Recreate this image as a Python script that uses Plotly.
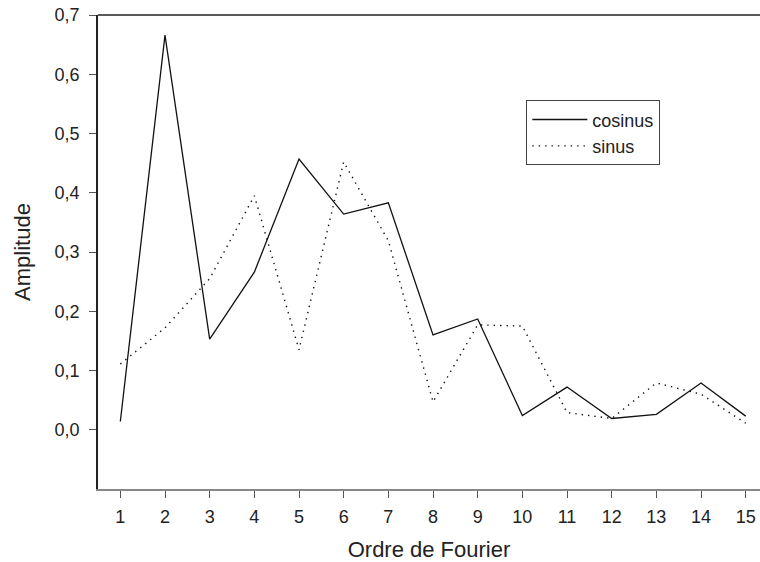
import plotly.graph_objects as go

ordre = list(range(1, 16))
cosinus = [0.014, 0.666, 0.153, 0.266, 0.457, 0.364, 0.383, 0.160, 0.187,
           0.024, 0.072, 0.019, 0.026, 0.079, 0.023]
sinus = [0.111, 0.172, 0.255, 0.395, 0.135, 0.452, 0.319, 0.047, 0.177,
         0.175, 0.029, 0.019, 0.079, 0.060, 0.011]
y_ticks = [0.0, 0.1, 0.2, 0.3, 0.4, 0.5, 0.6, 0.7]

font = "Liberation Sans, Arial, sans-serif"

fig = go.Figure()
fig.add_trace(go.Scatter(x=ordre, y=cosinus, mode="lines", name="cosinus",
                         line=dict(color="#111111", width=1.3)))
fig.add_trace(go.Scatter(x=ordre, y=sinus, mode="lines", name="sinus",
                         line=dict(color="#111111", width=1.4, dash="1.4px,5px")))

# top border line (black), bottom axis is grey
fig.add_shape(type="line", xref="paper", yref="paper", x0=0, x1=1, y0=1, y1=1,
              line=dict(color="#222222", width=1.3))

fig.update_layout(
    width=760, height=562,
    margin=dict(l=98, r=0, t=15, b=73),
    paper_bgcolor="white", plot_bgcolor="white",
    separators=", ",
    font=dict(family=font, size=18, color="#222222"),
    showlegend=True,
    legend=dict(x=0.647, y=0.82, xanchor="left", yanchor="top",
                bordercolor="#444444", borderwidth=1, bgcolor="white",
                font=dict(size=18), tracegroupgap=0,
                itemwidth=55),
    xaxis=dict(range=[0.5, 15.32], tickvals=ordre, showgrid=False, zeroline=False,
               showline=True, linecolor="#888888", linewidth=2,
               ticks="outside", ticklen=7, tickcolor="#555555",
               tickfont=dict(size=18), ticklabelstandoff=3,
               ticklabeloverflow="allow",
               title=dict(text="Ordre de Fourier", font=dict(size=22), standoff=19)),
    yaxis=dict(range=[-0.1, 0.7], tickvals=y_ticks, tickformat=".1f",
               showgrid=False, zeroline=False,
               showline=True, linecolor="#222222", linewidth=1.5,
               ticks="outside", ticklen=7, tickcolor="#555555",
               tickfont=dict(size=18), ticklabelstandoff=6,
               ticklabeloverflow="allow",
               title=dict(text="Amplitude", font=dict(size=22), standoff=18)),
)

# drop the default page margin so the figure sits at the window's corner
fig.write_html("out.html", config={"displayModeBar": False},
               post_script="document.body.style.margin = '0';")
